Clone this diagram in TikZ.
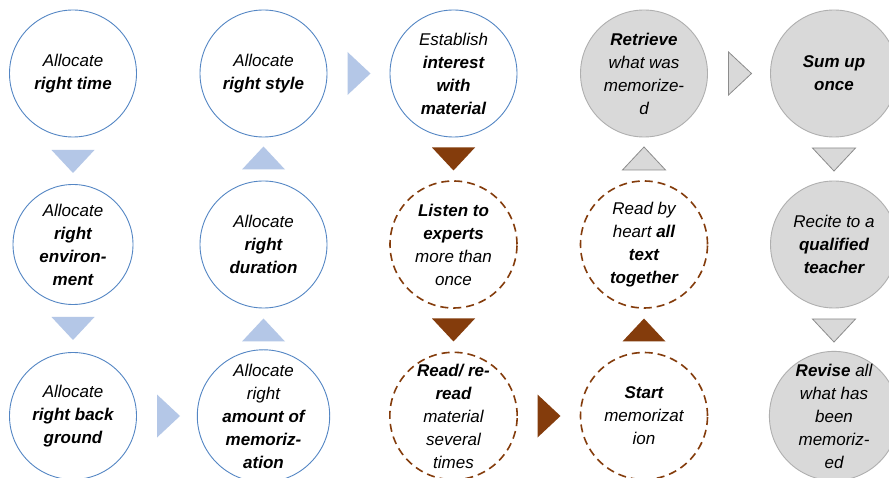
\documentclass[tikz,border=0pt]{standalone}
\usepackage{fontspec}
\setmainfont{Liberation Sans}
\begin{document}
\definecolor{ringblue}{RGB}{84,134,196}
\definecolor{paleblue}{RGB}{180,199,231}
\definecolor{rust}{RGB}{132,60,12}
\definecolor{stonefill}{RGB}{217,217,217}
\definecolor{stoneline}{RGB}{175,175,175}
\definecolor{tipline}{RGB}{140,140,140}
\begin{tikzpicture}[x=1pt,y=-1pt,
  every node/.style={align=center,font=\fontsize{17}{23}\selectfont\itshape,inner sep=0pt},
  stage/.style={circle,minimum size=127pt},
  plainstage/.style={stage,draw=ringblue,line width=0.9pt,fill=white},
  dashstage/.style={stage,draw=rust,line width=1.6pt,dash pattern=on 8pt off 5pt,fill=white},
  greystage/.style={stage,draw=stoneline,line width=0.9pt,fill=stonefill},
  bluetip/.style={fill=paleblue},
  rusttip/.style={fill=rust},
  greytip/.style={fill=stonefill,draw=tipline,line width=0.8pt,line join=miter},
  pics/tipright/.style={code={\path[pic actions] (-11.5,-21.5) -- (11.5,0) -- (-11.5,21.5) -- cycle;}},
  pics/tipdown/.style={code={\path[pic actions] (-21.5,-11.5) -- (21.5,-11.5) -- (0,11.5) -- cycle;}},
  pics/tipup/.style={code={\path[pic actions] (-21.5,11.5) -- (21.5,11.5) -- (0,-11.5) -- cycle;}}
]
\useasboundingbox (0,0) rectangle (889,478);
\fill[white] (0,0) rectangle (889,478);

% column 1
\node[plainstage] (a1) at (73,73.5) {Allocate\\\textbf{right time}};
\node[plainstage,minimum size=120pt] (a2) at (73,244.5) {Allocate\\\textbf{right}\\\textbf{environ-}\\\textbf{ment}};
\node[plainstage] (a3) at (73,416) {Allocate\\\textbf{right back}\\\textbf{ground}};

% column 2
\node[plainstage] (b1) at (263.5,73.5) {Allocate\\\textbf{right style}};
\node[plainstage] (b2) at (263.5,244.5) {Allocate\\\textbf{right}\\\textbf{duration}};
\node[plainstage] (b3) at (263.5,416) {Allocate\\right\\\textbf{amount of}\\\textbf{memoriz-}\\\textbf{ation}};

% column 3
\node[plainstage] (c1) at (453.5,73.5) {Establish\\\textbf{interest}\\\textbf{with}\\\textbf{material}};
\node[dashstage] (c2) at (453.5,244.5) {\textbf{Listen to}\\\textbf{experts}\\more than\\once};
\node[dashstage] (c3) at (453.5,416) {\textbf{Read/ re-}\\\textbf{read}\\material\\several\\times};

% column 4
\node[greystage] (d1) at (644,73.5) {\textbf{Retrieve}\\what was\\memorize-\\d};
\node[dashstage] (d2) at (644,244.5) {Read by\\heart \textbf{all}\\\textbf{text}\\\textbf{together}};
\node[dashstage] (d3) at (644,416) {\textbf{Start}\\memorizat\\ion};

% column 5
\node[greystage] (e1) at (834,73.5) {\textbf{Sum up}\\\textbf{once}};
\node[greystage] (e2) at (834,244.5) {Recite to a\\\textbf{qualified}\\\textbf{teacher}};
\node[greystage] (e3) at (834,416) {\textbf{Revise} all\\what has\\been\\memoriz-\\ed};

% flow markers between the stages
\pic[bluetip] at (73,161.5) {tipdown};
\pic[bluetip] at (73,328.5) {tipdown};
\pic[bluetip] at (168.5,416) {tipright};
\pic[bluetip] at (263.5,330) {tipup};
\pic[bluetip] at (263.5,158) {tipup};
\pic[bluetip] at (359,73.5) {tipright};
\pic[rusttip] at (453.5,159) {tipdown};
\pic[rusttip] at (453.5,330) {tipdown};
\pic[rusttip] at (549,416) {tipright};
\pic[rusttip] at (644,330) {tipup};
\pic[greytip] at (644,158.5) {tipup};
\pic[greytip] at (740,73.5) {tipright};
\pic[greytip] at (834,159.5) {tipdown};
\pic[greytip] at (834,330.5) {tipdown};
\end{tikzpicture}
\end{document}
